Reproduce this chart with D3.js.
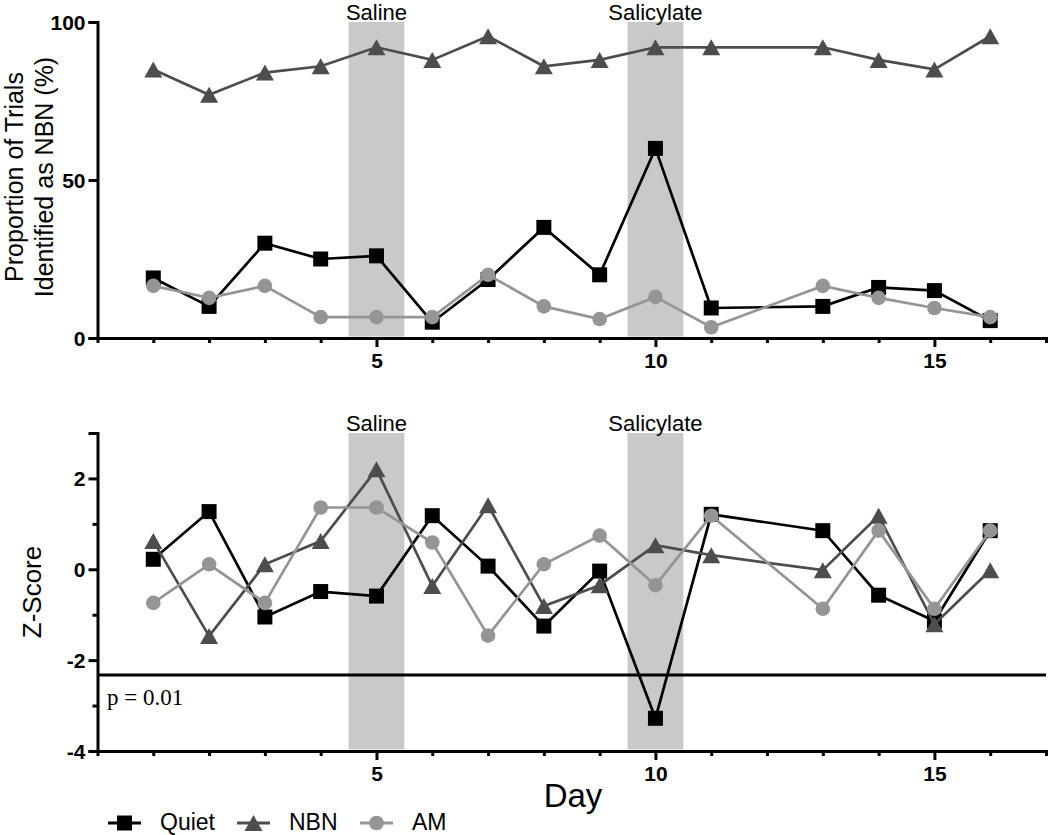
<!DOCTYPE html>
<html><head><meta charset="utf-8">
<script src="https://cdn.jsdelivr.net/npm/d3@7"></script>
<style>body{margin:0;background:#fff}svg{display:block}</style>
</head><body><svg id="c" width="1050" height="835"></svg>
<script>
const days = [1,2,3,4,5,6,7,8,9,10,11,13,14,15,16];
const quietPct = [19,10,30,25,26,5,18.5,35,20,60,9.5,10,16,15,5.5];
const nbnPct = [85,77,84,86,92,88,95.5,86,88,92,92,92,88,85,95.5];
const amPct = [16.5,12.7,16.5,6.6,6.6,6.6,20,10,6,13,3.4,16.5,12.7,9.5,6.6];
const quietZ = [0.22,1.27,-1.05,-0.49,-0.59,1.18,0.07,-1.25,-0.04,-3.28,1.21,0.85,-0.57,-1.14,0.85];
const nbnZ = [0.62,-1.47,0.11,0.62,2.2,-0.37,1.41,-0.81,-0.35,0.53,0.31,-0.02,1.18,-1.21,-0.02];
const amZ = [-0.74,0.11,-0.74,1.36,1.36,0.59,-1.46,0.11,0.74,-0.35,1.18,-0.87,0.85,-0.87,0.85];
const seriesNames = ["Quiet","NBN","AM"];
const treatments = [{label:"Saline", day:5},{label:"Salicylate", day:10}];
const xTicksLabeled = [5,10,15];
const topYTicks = [0,50,100];
const botYTicksLabeled = [-4,-2,0,2];
const pThreshold = -2.326;

const colors = {Quiet:"#000000", NBN:"#4d4d4d", AM:"#959595"};
const svg = d3.select("#c");
const font = "'Liberation Sans', Arial, sans-serif";

const x = d3.scaleLinear().domain([0,17]).range([97.5,1046]);
const yTop = d3.scaleLinear().domain([0,100]).range([338,22]);
const yBot = d3.scaleLinear().domain([-4,3]).range([751,433]);

function shades(y){
  treatments.forEach(t=>{
    svg.append("rect").attr("x",x(t.day-0.5)).attr("width",x(t.day+0.5)-x(t.day-0.5))
      .attr("y",y.range()[1]).attr("height",y.range()[0]-y.range()[1]-1.5).attr("fill","#c9c9c9");
    svg.append("text").attr("x",x(t.day)).attr("y",y.range()[1]-2).attr("text-anchor","middle")
      .attr("font-family",font).attr("font-size",22).attr("fill","#000").text(t.label);
  });
}
shades(yTop); shades(yBot);

function xAxis(y0){
  const g = svg.append("g").attr("transform",`translate(0,${y0})`)
    .call(d3.axisBottom(x).tickValues(d3.range(1,18)).tickSizeOuter(0).tickSize(5)
      .tickFormat(d=>xTicksLabeled.includes(d)?d:""));
  g.select(".domain").attr("stroke","#000").attr("stroke-width",3);
  g.selectAll(".tick line").attr("stroke","#000").attr("stroke-width",3)
    .attr("y2",d=>xTicksLabeled.includes(d)?9:5);
  g.selectAll(".tick text").attr("font-family",font).attr("font-weight","bold").attr("font-size",21)
    .attr("fill","#000").attr("y",15).attr("dy","0.71em");
}
function yAxis(y, ticks, labeled){
  const g = svg.append("g").attr("transform",`translate(${x(0)},0)`)
    .call(d3.axisLeft(y).tickValues(ticks).tickSizeOuter(0).tickSize(9)
      .tickFormat(d=>labeled.includes(d)?d:""));
  g.select(".domain").attr("stroke","#000").attr("stroke-width",3);
  g.selectAll(".tick line").attr("stroke","#000").attr("stroke-width",3)
    .attr("x2",d=>labeled.includes(d)?-9:-5);
  g.selectAll(".tick text").attr("font-family",font).attr("font-weight","bold").attr("font-size",21)
    .attr("fill","#000").attr("x",-12).attr("dy","0.36em");
}

// threshold
svg.append("line").attr("x1",x(0)).attr("x2",x(17)).attr("y1",yBot(pThreshold)).attr("y2",yBot(pThreshold))
  .attr("stroke","#000").attr("stroke-width",3);
svg.append("text").attr("x",107).attr("y",705).attr("font-family","'Liberation Serif', serif")
  .attr("font-size",23).attr("fill","#000").text("p = 0.01");

function symbolPath(name, cx, cy){
  if(name==="Quiet"){const s=7.5;return `M${cx-s},${cy-s}h${2*s}v${2*s}h${-2*s}Z`;}
  if(name==="NBN"){const w=9,h=8;return `M${cx},${cy-h}L${cx+w},${cy+h}L${cx-w},${cy+h}Z`;}
  return null;
}
function drawSeries(y, vals, name){
  const data = days.map((d,i)=>({d, v:vals[i]}));
  svg.append("path").datum(data).attr("fill","none").attr("stroke",colors[name]).attr("stroke-width",2.7)
    .attr("stroke-linejoin","miter")
    .attr("d",d3.line().x(p=>x(p.d)).y(p=>y(p.v)));
  data.forEach(p=>{
    if(name==="AM") svg.append("circle").attr("cx",x(p.d)).attr("cy",y(p.v)).attr("r",7.3).attr("fill",colors[name]);
    else svg.append("path").attr("d",symbolPath(name,x(p.d),y(p.v))).attr("fill",colors[name]);
  });
}
drawSeries(yTop, quietPct, "Quiet");
drawSeries(yTop, nbnPct, "NBN");
drawSeries(yTop, amPct, "AM");
drawSeries(yBot, quietZ, "Quiet");
drawSeries(yBot, nbnZ, "NBN");
drawSeries(yBot, amZ, "AM");

xAxis(338); xAxis(751);
yAxis(yTop, topYTicks, topYTicks);
yAxis(yBot, d3.range(-4,4), botYTicksLabeled);

// axis titles
const yl = svg.append("text").attr("transform","translate(23,177) rotate(-90)").attr("text-anchor","middle")
  .attr("font-family",font).attr("font-size",25).attr("fill","#000");
yl.append("tspan").attr("x",0).attr("y",0).text("Proportion of Trials");
yl.append("tspan").attr("x",0).attr("y",30).text("Identified as NBN (%)");
svg.append("text").attr("transform","translate(40.5,592) rotate(-90)").attr("text-anchor","middle")
  .attr("font-family",font).attr("font-size",26).attr("fill","#000").text("Z-Score");
svg.append("text").attr("x",573).attr("y",807).attr("text-anchor","middle")
  .attr("font-family",font).attr("font-size",33).attr("fill","#000").text("Day");

// legend
const legX = [108,237,360];
seriesNames.forEach((n,i)=>{
  const lx = legX[i], ly = 823;
  svg.append("line").attr("x1",lx).attr("x2",lx+33).attr("y1",ly).attr("y2",ly)
    .attr("stroke",colors[n]).attr("stroke-width",3);
  if(n==="AM") svg.append("circle").attr("cx",lx+16.5).attr("cy",ly).attr("r",7.3).attr("fill",colors[n]);
  else svg.append("path").attr("d",symbolPath(n,lx+16.5,ly)).attr("fill",colors[n]);
  svg.append("text").attr("x",lx+52).attr("y",830).attr("font-family",font).attr("font-size",23)
    .attr("fill","#000").text(n);
});
</script></body></html>
